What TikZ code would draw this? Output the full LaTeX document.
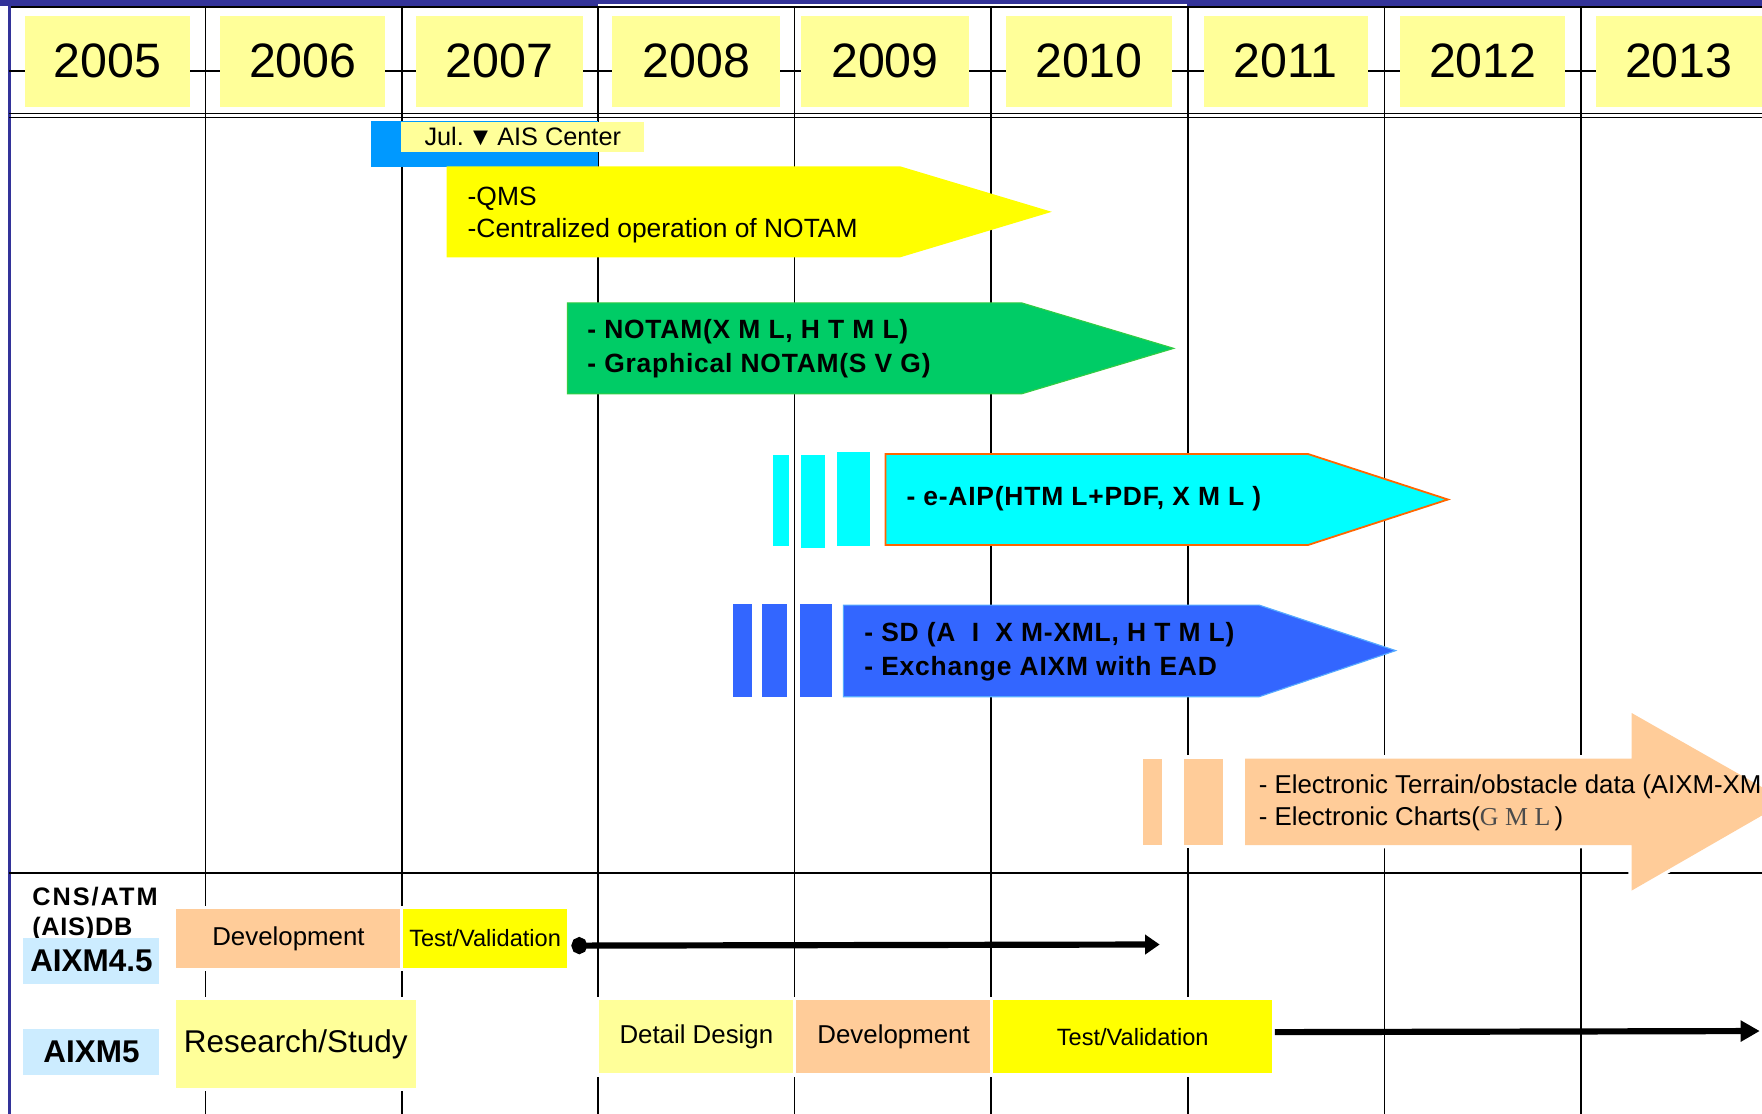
\documentclass[tikz,border=0pt]{standalone}
\usepackage{fontspec}
\setmainfont{Liberation Sans}
\newfontfamily\gmlfont{Liberation Serif}
\usetikzlibrary{arrows.meta}
\definecolor{navy}{HTML}{333399}
\definecolor{yearyel}{HTML}{FFFF99}
\definecolor{brightyel}{HTML}{FFFF00}
\definecolor{peach}{HTML}{FFCC99}
\definecolor{notamgreen}{HTML}{00CC66}
\definecolor{notamedge}{HTML}{33CC44}
\definecolor{aipcyan}{HTML}{00FFFF}
\definecolor{aipedge}{HTML}{FF6600}
\definecolor{sdblue}{HTML}{3366FF}
\definecolor{sdedge}{HTML}{55AAFF}
\definecolor{julblue}{HTML}{0099FF}
\definecolor{tagblue}{HTML}{CCECFF}
\begin{document}
\begin{tikzpicture}[x=1pt,y=-1pt,
  gridline/.style={line width=1.5pt},
  yearbox/.style={fill=yearyel, inner sep=0pt, minimum height=81pt, font=\fontsize{43}{50}\selectfont},
  halo/.style={preaction={draw=white,line width=6pt}},
  plainbox/.style={inner sep=0pt, anchor=north west, font=\fontsize{23}{28}\selectfont, halo},
  arrowtext/.style={anchor=west, align=left, inner sep=0pt, font=\fontsize{23.5}{28}\selectfont},
  boldtext/.style={anchor=west, align=left, inner sep=0pt, font=\fontsize{23.5}{30}\selectfont\bfseries\addfontfeature{LetterSpace=3}},
  tagbox/.style={fill=tagblue, inner sep=0pt, anchor=north west, minimum width=121pt, minimum height=41pt, font=\fontsize{28}{32}\selectfont\bfseries},
  flow/.style={line width=5.5pt},
]
\useasboundingbox (0,0) rectangle (1568,991);
\clip (0,0) rectangle (1568,991);
\fill[white] (0,0) rectangle (1568,991);

% top frame
\fill[navy] (0,0) rectangle (532,5.2);
\fill[navy] (532,0) rectangle (1056,4);
\fill[navy] (1056,0) rectangle (1568,5.5);
\draw[line width=1.8pt] (8,6.5) -- (1568,6.5);
\draw[navy, line width=2.5pt] (8.5,0) -- (8.5,991);

% header tick line and grid
\draw[line width=1.3pt] (8,63) -- (1568,63);
\foreach \gx in {183,358,532,707,882,1057,1232,1407}
  \draw[gridline] (\gx,6.5) -- (\gx,991);
\draw[line width=1.3pt] (8,101) -- (1568,101);
\draw[line width=1.3pt] (8,104.5) -- (1568,104.5);
\draw[line width=1.8pt] (8,777) -- (1568,777);

% year boxes
\node[yearbox, minimum width=147pt] (y2005) at (95.5,54.5) {2005};
\node[yearbox, minimum width=147pt] (y2006) at (269.5,54.5) {2006};
\node[yearbox, minimum width=149pt] (y2007) at (444.5,54.5) {2007};
\node[yearbox, minimum width=149pt] (y2008) at (619.5,54.5) {2008};
\node[yearbox, minimum width=149pt] (y2009) at (787.5,54.5) {2009};
\node[yearbox, minimum width=148pt] (y2010) at (969,54.5) {2010};
\node[yearbox, minimum width=146pt] (y2011) at (1144,54.5) {2011};
\node[yearbox, minimum width=147pt] (y2012) at (1319.5,54.5) {2012};
\node[yearbox, minimum width=148pt] (y2013) at (1494,54.5) {2013};

% AIS center
\fill[julblue] (330,108) rectangle (532,148.5);
\node[fill=yearyel, anchor=north west, inner sep=0pt, minimum width=216pt, minimum height=27pt,
      font=\fontsize{22.5}{26}\selectfont] (jul) at (357,108) {Jul.\,▼\,AIS Center};

% QMS arrow
\fill[brightyel] (397.5,148) -- (801,148) -- (936,188.5) -- (801,229) -- (397.5,229) -- cycle;
\node[arrowtext] (qms) at (416,191.5) {-QMS\\-Centralized operation of NOTAM};

% NOTAM arrow
\filldraw[fill=notamgreen, draw=notamedge, line width=1pt]
  (505,269.5) -- (909,269.5) -- (1044.5,310) -- (909,350.5) -- (505,350.5) -- cycle;
\node[boldtext] (notam) at (522.5,310) {- NOTAM(X M L, H T M L)\\- Graphical NOTAM(S V G)};

% e-AIP arrow
\fill[aipcyan] (688,405) rectangle (702.5,485.5);
\fill[aipcyan] (713,405) rectangle (734,488);
\fill[aipcyan] (745,402) rectangle (774,485.5);
\filldraw[fill=aipcyan, draw=aipedge, line width=1.6pt]
  (788,404) -- (1164,404) -- (1288.5,444.5) -- (1164,485) -- (788,485) -- cycle;
\node[boldtext] (eaip) at (806.5,444) {- e-AIP(HTM L+PDF, X M L )};

% SD arrow
\fill[sdblue] (652.5,537.5) rectangle (669,620.5);
\fill[sdblue] (678,537.5) rectangle (700.5,620.5);
\fill[sdblue] (712,537.5) rectangle (740.5,620.5);
\filldraw[fill=sdblue, draw=sdedge, line width=1pt]
  (750.5,538.5) -- (1120.5,538.5) -- (1242,579) -- (1120.5,620) -- (750.5,620) -- cycle;
\node[boldtext] (sd) at (769,580) {- SD (A \ I \ X M-XML, H T M L)\\- Exchange AIXM with EAD};

% Electronic terrain arrow
\fill[peach, halo] (1017.5,675) rectangle (1034,752);
\fill[peach, halo] (1054,675) rectangle (1088,752);
\fill[peach, halo] (1108,675) -- (1452,675) -- (1452,634.5) -- (1590,713) -- (1452,792.5)
  -- (1452,752) -- (1108,752) -- cycle;
\node[arrowtext, font=\fontsize{23}{28}\selectfont] (etod) at (1120,714.5)
  {- Electronic Terrain/obstacle data (AIXM-XML)\\- Electronic Charts({\gmlfont\color{black!70} G M L}\,)};

% lower section labels
\node[anchor=west, inner sep=0pt, font=\fontsize{22.5}{25}\selectfont\bfseries\addfontfeature{LetterSpace=8}] (cns) at (28.5,798) {CNS/ATM};
\node[anchor=west, inner sep=0pt, font=\fontsize{22.5}{25}\selectfont\bfseries\addfontfeature{LetterSpace=3}] (aisdb) at (28.5,827) {(AIS)DB};
\node[tagbox] (aixm45) at (20.7,834.7) {AIXM4.5};
\node[tagbox] (aixm5) at (20.7,915.7) {AIXM5};

% AIXM 4.5 row
\node[plainbox, fill=peach, minimum width=201pt, minimum height=52pt] (dev45) at (156,809) {Development};
\node[plainbox, fill=brightyel, minimum width=146pt, minimum height=52pt,
      font=\fontsize{21}{25}\selectfont] (tv45) at (358.5,809) {Test/Validation};
\coordinate (s45) at (508.5,841.5);
\coordinate (e45) at (1032,840.5);
\draw[flow, {Circle[length=14pt,width=15pt]}-{Triangle[length=13pt,width=17pt]}] (s45) -- (e45);

% AIXM 5 row
\node[plainbox, fill=yearyel, minimum width=214pt, minimum height=78pt,
      font=\fontsize{28}{32}\selectfont] (rs5) at (156,890) {Research/Study};
\node[plainbox, fill=yearyel, minimum width=174pt, minimum height=65pt] (dd5) at (532.5,890) {Detail Design};
\node[plainbox, fill=peach, minimum width=173pt, minimum height=65pt] (dev5) at (708.5,890) {Development};
\node[plainbox, fill=brightyel, minimum width=248.5pt, minimum height=65pt,
      font=\fontsize{21}{25}\selectfont] (tv5) at (883.5,890) {Test/Validation};
\coordinate (s5) at (1134.5,918.5);
\coordinate (e5) at (1566,917.5);
\draw[flow, -{Triangle[length=17pt,width=18pt]}] (s5) -- (e5);
\end{tikzpicture}
\end{document}
